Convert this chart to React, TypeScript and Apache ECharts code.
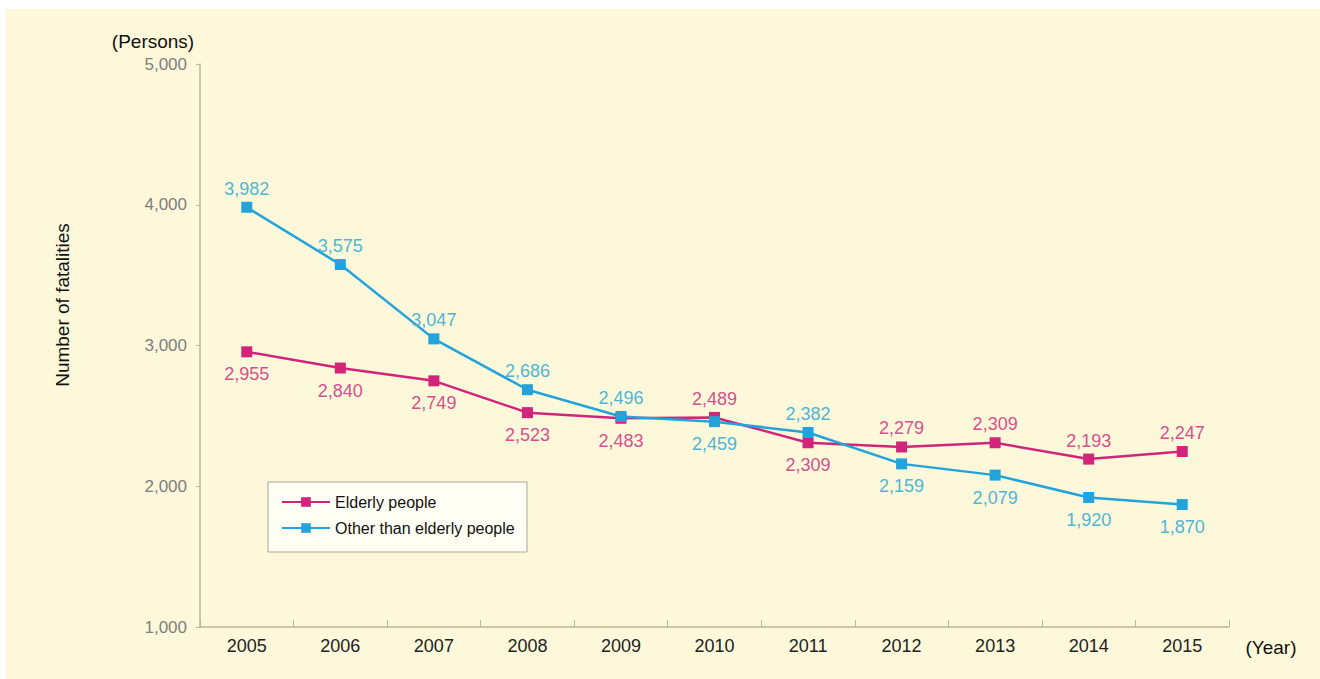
import React, { useEffect, useRef } from "react";
import * as echarts from "echarts";

const years = ["2005", "2006", "2007", "2008", "2009", "2010", "2011", "2012", "2013", "2014", "2015"];
const elderly = [2955, 2840, 2749, 2523, 2483, 2489, 2309, 2279, 2309, 2193, 2247];
const others = [3982, 3575, 3047, 2686, 2496, 2459, 2382, 2159, 2079, 1920, 1870];
const seriesNames = ["Elderly people", "Other than elderly people"];

const PINK = "#D1247A";
const PINK_LABEL = "#D5508F";
const BLUE = "#22A3DC";
const BLUE_LABEL = "#4DB6D8";

const fmt = (v: number) => v.toLocaleString("en-US");
const FONT = "Liberation Sans, Arial, sans-serif";

function buildData(vals: number[], other: number[], color: string) {
  return vals.map((v, i) => {
    const above = v > other[i];
    return {
      value: v,
      label: {
        show: true,
        position: above ? "top" : "bottom",
        distance: above ? 4 : 8,
        color,
        fontSize: 18,
        fontFamily: FONT,
        formatter: (p: any) => fmt(p.value),
      },
    };
  });
}

export default function App() {
  const ref = useRef<HTMLDivElement>(null);
  useEffect(() => {
    if (!ref.current) return;
    const chart = echarts.init(ref.current, null, { renderer: "svg" });
    chart.setOption({
      animation: false,
      backgroundColor: "#FEF8DA",
      textStyle: { fontFamily: FONT },
      grid: { left: 194, right: 91, top: 55, bottom: 52, containLabel: false },
      xAxis: {
        type: "category",
        data: years,
        boundaryGap: true,
        axisLine: { lineStyle: { color: "#BDB59C", width: 1.5 } },
        axisTick: { show: true, inside: true, length: 7, lineStyle: { color: "#BDB59C" } },
        axisLabel: { color: "#222", fontSize: 18, margin: 10, fontFamily: FONT },
        splitLine: { show: false },
      },
      yAxis: {
        type: "value",
        min: 1000,
        max: 5000,
        interval: 1000,
        axisLine: { show: true, lineStyle: { color: "#BDB59C", width: 1.5 } },
        axisTick: { show: true, length: 4, lineStyle: { color: "#BDB59C" } },
        axisLabel: { color: "#7E7E7E", fontSize: 17, margin: 13, fontFamily: FONT, formatter: (v: number) => fmt(v) },
        splitLine: { show: false },
      },
      legend: {
        orient: "vertical",
        left: 275,
        top: 485,
        padding: 0,
        itemGap: 10,
        itemWidth: 48,
        itemHeight: 12,
        textStyle: { color: "#111", fontSize: 16, fontFamily: FONT },
        data: seriesNames,
      },
      graphic: [
        {
          type: "rect",
          shape: { x: 262, y: 473, width: 259, height: 70 },
          style: { fill: "#FFFEF4", stroke: "#A9A69A", lineWidth: 1 },
          z: 1,
        },
        {
          type: "text",
          x: 147,
          y: 32,
          style: { text: "(Persons)", fill: "#111", fontSize: 19, fontFamily: FONT, textAlign: "center", textVerticalAlign: "middle" },
        },
        {
          type: "text",
          x: 1265,
          y: 638,
          style: { text: "(Year)", fill: "#111", fontSize: 19, fontFamily: FONT, textAlign: "center", textVerticalAlign: "middle" },
        },
        {
          type: "text",
          x: 56,
          y: 296,
          rotation: Math.PI / 2,
          style: { text: "Number of fatalities", fill: "#111", fontSize: 19, fontFamily: FONT, textAlign: "center", textVerticalAlign: "middle" },
        },
      ],
      series: [
        {
          name: seriesNames[0],
          type: "line",
          data: buildData(elderly, others, PINK_LABEL),
          symbol: "rect",
          symbolSize: 11,
          lineStyle: { color: PINK, width: 2.5 },
          itemStyle: { color: PINK },
          z: 3,
        },
        {
          name: seriesNames[1],
          type: "line",
          data: buildData(others, elderly, BLUE_LABEL),
          symbol: "rect",
          symbolSize: 11,
          lineStyle: { color: BLUE, width: 2.5 },
          itemStyle: { color: BLUE },
          z: 3,
        },
      ],
    });
    return () => chart.dispose();
  }, []);
  return (
    <div style={{ position: "fixed", left: 0, top: 0, width: 1320, height: 679, background: "#ffffff" }}>
      <div ref={ref} style={{ position: "absolute", left: 6, top: 9, width: 1314, height: 670 }} />
    </div>
  );
}
